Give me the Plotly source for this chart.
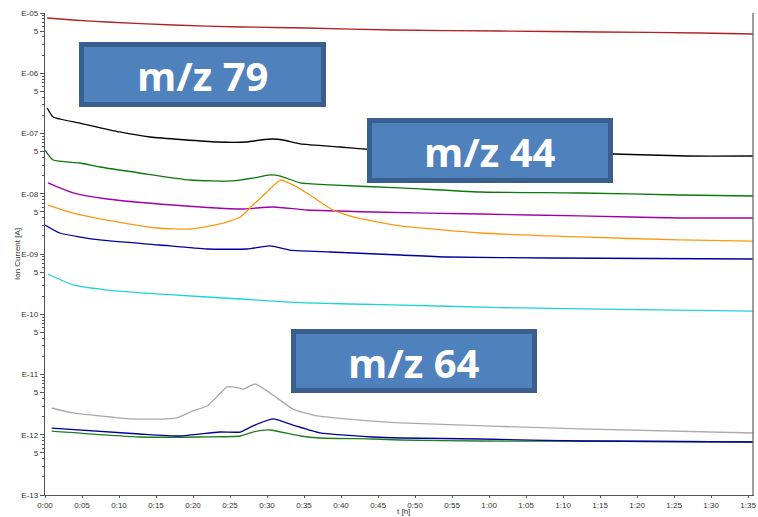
import plotly.graph_objects as go

# ---------------- data (time in minutes, ion current in A) ----------------
t_red = [0.3, 3.8, 8.4, 17.3, 26.4, 35.4, 47.0, 61.5, 75.0, 88.5, 95.7]
i_red = [8.26e-6, 7.65e-6, 7.09e-6, 6.32e-6, 5.86e-6, 5.64e-6, 5.22e-6, 5.03e-6, 4.84e-6, 4.66e-6, 4.48e-6]

t_black = [0.3, 1.1, 4.7, 10.1, 14.2, 23.2, 27.3, 29.1, 30.8, 32.2, 34.5, 39.9, 43.2, 58.8, 76.8, 86.8, 95.7]
i_black = [2.65e-7, 1.88e-7, 1.49e-7, 1.06e-7, 8.75e-8, 7.23e-8, 7.23e-8, 7.8e-8, 8.11e-8, 7.8e-8, 6.70e-8,
           5.97e-8, 5.53e-8, 4.93e-8, 4.57e-8, 4.23e-8, 4.23e-8]

t_green = [0.0, 1.1, 4.7, 7.4, 12.8, 19.6, 25.4, 28.1, 30.4, 31.8, 34.5, 38.5, 48.0, 58.8, 72.3, 85.8, 95.7]
i_green = [5.32e-8, 3.63e-8, 3.24e-8, 2.78e-8, 2.21e-8, 1.69e-8, 1.63e-8, 1.82e-8, 2.05e-8, 1.97e-8, 1.51e-8,
           1.40e-8, 1.25e-8, 1.07e-8, 1.03e-8, 9.53e-9, 9.18e-9]

t_purple = [0.4, 3.8, 8.4, 17.3, 26.4, 30.8, 35.4, 44.3, 58.8, 72.3, 85.8, 95.7]
i_purple = [1.51e-8, 1.03e-8, 8.18e-9, 6.50e-9, 5.58e-9, 6.03e-9, 5.37e-9, 4.98e-9, 4.61e-9, 4.28e-9, 3.96e-9, 3.96e-9]

t_orange = [0.4, 3.8, 8.4, 15.1, 19.6, 23.6, 26.4, 28.1, 30.0, 31.8, 33.5, 35.8, 38.9, 42.2, 48.0, 58.8, 72.3, 85.8, 95.7]
i_orange = [6.50e-9, 4.79e-9, 3.66e-9, 2.70e-9, 2.60e-9, 3.15e-9, 4.11e-9, 6.50e-9, 1.07e-8, 1.69e-8, 1.40e-8,
            9.53e-9, 5.37e-9, 3.96e-9, 2.92e-9, 2.23e-9, 1.92e-9, 1.71e-9, 1.64e-9]

t_blue = [0.0, 2.0, 7.4, 15.5, 21.9, 27.3, 30.4, 33.1, 38.5, 48.0, 54.3, 68.2, 95.7]
i_blue = [3.03e-9, 2.23e-9, 1.71e-9, 1.41e-9, 1.21e-9, 1.21e-9, 1.36e-9, 1.16e-9, 1.08e-9, 9.62e-10, 8.91e-10,
          8.59e-10, 8.26e-10]

t_cyan = [0.4, 3.8, 8.4, 17.3, 26.4, 35.4, 47.0, 61.5, 75.0, 95.7]
i_cyan = [4.66e-10, 3.06e-10, 2.52e-10, 2.09e-10, 1.79e-10, 1.54e-10, 1.43e-10, 1.29e-10, 1.22e-10, 1.13e-10]

t_gray = [0.9, 3.8, 7.4, 11.5, 16.5, 17.8, 20.0, 21.9, 23.2, 24.6, 25.4, 26.8, 28.4, 30.8, 33.5, 36.8, 42.2, 48.0, 72.3, 95.7]
i_gray = [2.78e-12, 2.30e-12, 2.05e-12, 1.83e-12, 1.83e-12, 1.90e-12, 2.48e-12, 3.00e-12, 4.24e-12, 6.21e-12,
          6.21e-12, 5.74e-12, 6.95e-12, 4.57e-12, 2.67e-12, 2.05e-12, 1.76e-12, 1.57e-12, 1.25e-12, 1.07e-12]

t_navy = [0.9, 12.8, 18.2, 23.6, 26.4, 28.1, 30.8, 33.5, 37.2, 44.3, 48.0, 58.8, 72.3, 95.7]
i_navy = [1.29e-12, 1.03e-12, 9.53e-13, 1.11e-12, 1.11e-12, 1.40e-12, 1.83e-12, 1.45e-12, 1.07e-12, 9.18e-13,
          8.84e-13, 8.50e-13, 7.87e-13, 7.58e-13]

t_dgreen = [0.9, 12.8, 21.0, 26.4, 28.1, 30.4, 34.5, 37.2, 44.3, 48.0, 58.8, 72.3, 95.7]
i_dgreen = [1.15e-12, 9.18e-13, 9.18e-13, 9.53e-13, 1.11e-12, 1.20e-12, 9.53e-13, 8.84e-13, 8.50e-13, 8.18e-13,
            7.87e-13, 7.87e-13, 7.58e-13]

x_ticks = list(range(0, 100, 5))
x_ticktext = ["%d:%02d" % (m // 60, m % 60) for m in x_ticks]
decades = list(range(-13, -4))
labels_box = ["m/z 79", "m/z 44", "m/z 64"]

series = [
    (t_red, i_red, "#b22222"),
    (t_black, i_black, "#000000"),
    (t_green, i_green, "#0a7a0a"),
    (t_purple, i_purple, "#a000a8"),
    (t_orange, i_orange, "#ff9810"),
    (t_blue, i_blue, "#0000a0"),
    (t_cyan, i_cyan, "#1ed2d8"),
    (t_gray, i_gray, "#aaaaaa"),
    (t_dgreen, i_dgreen, "#1f7f1f"),
    (t_navy, i_navy, "#00009a"),
]

fig = go.Figure()
for tx, iy, col in series:
    fig.add_trace(go.Scatter(x=tx, y=iy, mode="lines",
                             line=dict(color=col, width=1.3, shape="spline", smoothing=0.5),
                             hoverinfo="skip", showlegend=False))

# ---------------- layout geometry ----------------
W, H = 758, 517
L, R, T, B = 45, 4, 13, 22
PW, PH = W - L - R, H - T - B


def px(x):
    return (x - L) / PW


def py(y):
    return (H - B - y) / PH


major_vals = [10.0 ** d for d in decades]
five_vals = [5 * 10.0 ** d for d in decades[:-1]]
minor_vals = [k * 10.0 ** d for d in decades[:-1] for k in (2, 3, 4, 6, 7, 8, 9)]
yvals = major_vals + five_vals
ytext = ["E-%02d" % (-d) for d in decades] + ["5"] * len(five_vals)

shapes = []
annotations = []
boxes = [(79, 42, 326, 107), (367, 118, 613, 183), (291, 329, 537, 393)]
for (x0, y0, x1, y1), txt in zip(boxes, labels_box):
    shapes.append(dict(type="rect", xref="paper", yref="paper",
                       x0=px(x0 + 2.5), x1=px(x1 - 2.5), y0=py(y0 + 2.5), y1=py(y1 - 2.5),
                       fillcolor="#4f81bd", line=dict(color="#3a5f8d", width=5), layer="above"))
    annotations.append(dict(xref="paper", yref="paper", x=px((x0 + x1) / 2), y=py((y0 + y1) / 2 + 1),
                            text="<b>%s</b>" % txt, showarrow=False,
                            font=dict(family="Open Sans", size=40, color="white"),
                            xanchor="center", yanchor="middle"))

# cursor line on the right
shapes.append(dict(type="line", xref="paper", yref="paper", x0=px(753), x1=px(753), y0=0, y1=1,
                   line=dict(color="#6a6a6a", width=1.3)))

annotations.append(dict(xref="paper", yref="paper", x=px(17), y=0.5, text="Ion Current [A]",
                        textangle=-90, showarrow=False,
                        font=dict(family="Liberation Sans", size=8, color="#333"),
                        xanchor="center", yanchor="middle"))
annotations.append(dict(xref="paper", yref="paper", x=px(403), y=py(511), text="t [h]",
                        showarrow=False, font=dict(family="Liberation Sans", size=8, color="#333"),
                        xanchor="center", yanchor="middle"))

fig.update_layout(
    width=W, height=H,
    margin=dict(l=L, r=R, t=T, b=B, autoexpand=False),
    paper_bgcolor="white", plot_bgcolor="white",
    showlegend=False,
    shapes=shapes, annotations=annotations,
    xaxis=dict(range=[0, 95.8], tickmode="array", tickvals=x_ticks, ticktext=x_ticktext,
               ticks="outside", ticklen=2, tickcolor="#555", showline=True, linecolor="#555",
               linewidth=1.3, showgrid=False, zeroline=False, ticklabeloverflow="allow",
               tickfont=dict(family="Liberation Sans", size=8, color="#333")),
    yaxis=dict(type="log", range=[-13, -5], tickmode="array", tickvals=yvals, ticktext=ytext,
               ticks="outside", ticklen=4, tickcolor="#555", showline=True, linecolor="#555",
               linewidth=1.3, showgrid=False, zeroline=False, ticklabeloverflow="allow",
               tickfont=dict(family="Liberation Sans", size=8, color="#333"),
               minor=dict(tickmode="array", tickvals=minor_vals, ticks="outside", ticklen=2,
                          tickcolor="#555", showgrid=False)),
)

# remove the default 8px page margin so the figure fills the window exactly
fig.write_html("out.html", config={"displayModeBar": False, "staticPlot": True},
               post_script="document.body.style.margin='0';document.body.style.overflow='hidden';")
